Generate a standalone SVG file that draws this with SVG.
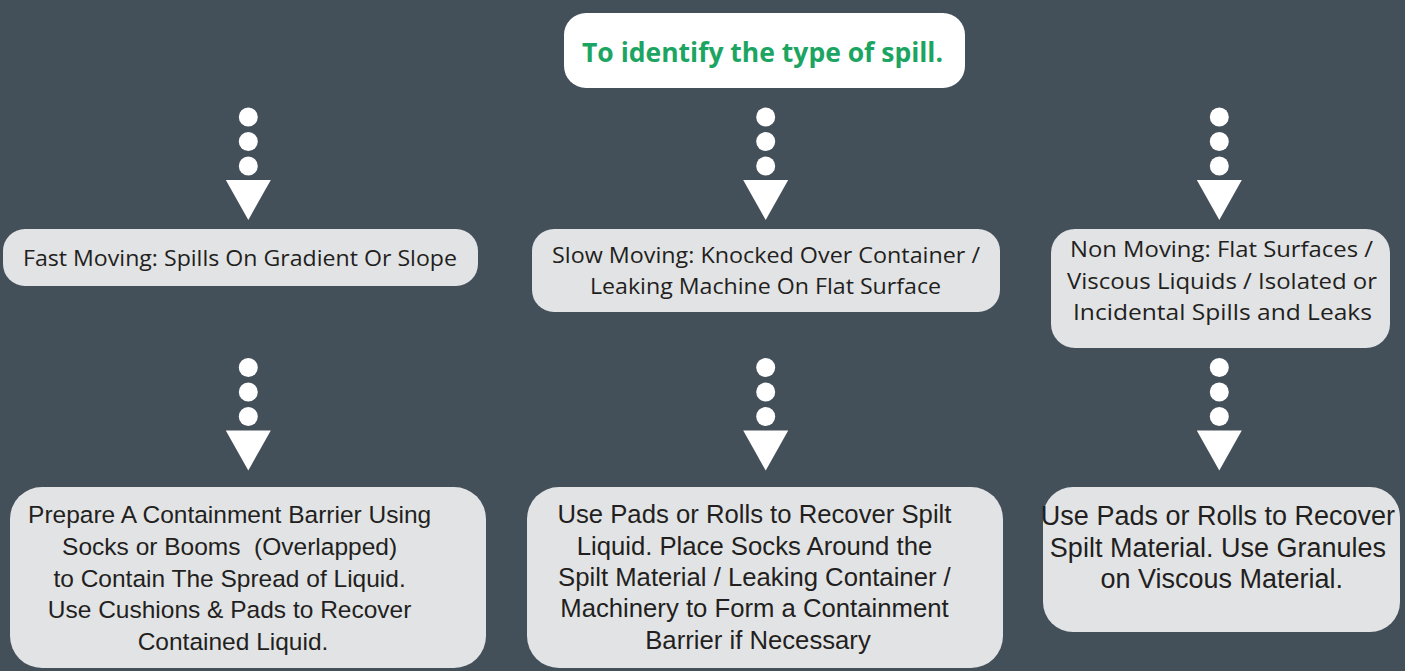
<svg xmlns="http://www.w3.org/2000/svg" xmlns:xlink="http://www.w3.org/1999/xlink" width="1405" height="671" viewBox="0 0 1405 671">
  <style>
    .title { font-family: "Open Sans", "Liberation Sans", sans-serif; font-weight: 700; font-size: 26.5px; fill: #1ca562; }
    .cat { font-family: "Open Sans", "Liberation Sans", sans-serif; font-size: 22.5px; fill: #231f20; }
    .act { font-family: "Liberation Sans", Arial, sans-serif; fill: #231f20; text-anchor: middle; }
    .box { fill: #e2e3e5; }
    .flow { fill: #ffffff; }
  </style>
  <defs>
    <!-- dotted drop arrow: three dots then a downward triangle -->
    <g id="drop">
      <circle cx="0" cy="0" r="9.5"/>
      <circle cx="0" cy="24.5" r="9.5"/>
      <circle cx="0" cy="49" r="9.5"/>
      <polygon points="-22.5,63 22.5,63 0,103"/>
    </g>
  </defs>

  <rect width="1405" height="671" fill="#434f59"/>

  <g id="connectors" class="flow">
    <use xlink:href="#drop" x="248.3" y="117"/>
    <use xlink:href="#drop" x="765.7" y="117"/>
    <use xlink:href="#drop" x="1219.3" y="117"/>
    <use xlink:href="#drop" x="248.3" y="367.5"/>
    <use xlink:href="#drop" x="765.7" y="367.5"/>
    <use xlink:href="#drop" x="1219.3" y="367.5"/>
  </g>

  <g id="node-start">
    <rect x="564" y="13" width="401" height="75" rx="22" fill="#ffffff"/>
    <text class="title" x="582" y="62" textLength="361" lengthAdjust="spacingAndGlyphs">To identify the type of spill.</text>
  </g>

  <g id="node-fast">
    <rect class="box" x="3" y="229" width="475" height="57" rx="22"/>
    <text class="cat" x="23" y="266" textLength="434" lengthAdjust="spacingAndGlyphs">Fast Moving: Spills On Gradient Or Slope</text>
  </g>

  <g id="node-slow">
    <rect class="box" x="532" y="229" width="468" height="83" rx="22"/>
    <text class="cat" x="552" y="263" textLength="428" lengthAdjust="spacingAndGlyphs">Slow Moving: Knocked Over Container /</text>
    <text class="cat" x="590" y="294" textLength="351" lengthAdjust="spacingAndGlyphs">Leaking Machine On Flat Surface</text>
  </g>

  <g id="node-non">
    <rect class="box" x="1051" y="229" width="339" height="119" rx="24"/>
    <text class="cat" x="1070" y="257" textLength="303" lengthAdjust="spacingAndGlyphs">Non Moving: Flat Surfaces /</text>
    <text class="cat" x="1067" y="288.5" textLength="310" lengthAdjust="spacingAndGlyphs">Viscous Liquids / Isolated or</text>
    <text class="cat" x="1073" y="320" textLength="299" lengthAdjust="spacingAndGlyphs">Incidental Spills and Leaks</text>
  </g>

  <g id="node-fast-action">
    <rect class="box" x="10" y="487" width="476" height="181" rx="32"/>
    <text class="act" font-size="24.5" x="233">
      <tspan x="233" y="523.3">Prepare A Containment Barrier Using</tspan>
      <tspan x="233" y="555" xml:space="preserve">Socks or Booms  (Overlapped)</tspan>
      <tspan x="233" y="586.7">to Contain The Spread of Liquid.</tspan>
      <tspan x="233" y="618.3">Use Cushions &amp; Pads to Recover</tspan>
      <tspan x="233" y="650">Contained Liquid.</tspan>
    </text>
  </g>

  <g id="node-slow-action">
    <rect class="box" x="527" y="487" width="476" height="181" rx="32"/>
    <text class="act" font-size="25.7" x="758">
      <tspan x="758" y="523.3">Use Pads or Rolls to Recover Spilt</tspan>
      <tspan x="758" y="554.5">Liquid. Place Socks Around the</tspan>
      <tspan x="758" y="586">Spilt Material / Leaking Container /</tspan>
      <tspan x="758" y="617.3">Machinery to Form a Containment</tspan>
      <tspan x="758" y="648.5">Barrier if Necessary</tspan>
    </text>
  </g>

  <g id="node-non-action">
    <rect class="box" x="1043" y="487" width="357" height="145" rx="30"/>
    <text class="act" font-size="27" x="1221.7">
      <tspan x="1221.7" y="525">Use Pads or Rolls to Recover</tspan>
      <tspan x="1221.7" y="556.7">Spilt Material. Use Granules</tspan>
      <tspan x="1221.7" y="588.3">on Viscous Material.</tspan>
    </text>
  </g>
</svg>
